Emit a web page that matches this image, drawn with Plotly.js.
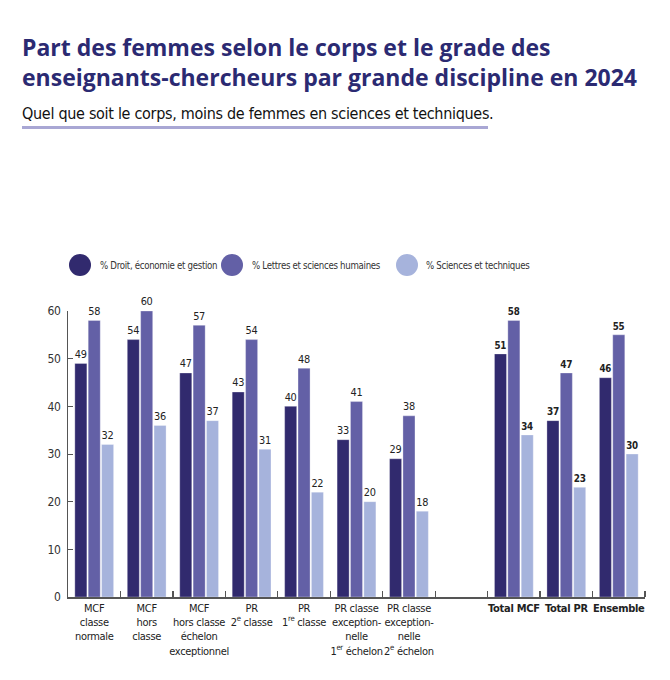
<!DOCTYPE html>
<html>
<head>
<meta charset="utf-8">
<script src="https://cdn.plot.ly/plotly-3.0.1.min.js"></script>
<style>
  body { margin: 0; background: #fff; }
  #chart { width: 670px; height: 680px; }
  /* narrow face for the chart labels (also hits plotly's measuring copies) */
  text[style*="DejaVu Sans"] { font-stretch: condensed; letter-spacing: -0.3px; }
</style>
</head>
<body>
<div id="chart"></div>
<script>
// categories (an empty slot separates the grades from the totals)
var categories = [
    "MCF<br>classe<br>normale",
    "MCF<br>hors<br>classe",
    "MCF<br>hors classe<br>échelon<br>exceptionnel",
    "PR<br>2<sup>e</sup> classe",
    "PR<br>1<sup>re</sup> classe",
    "PR classe<br>exception-<br>nelle<br>1<sup>er</sup> échelon",
    "PR classe<br>exception-<br>nelle<br>2<sup>e</sup> échelon",
    "",
    "<b>Total MCF</b>",
    "<b>Total PR</b>",
    "<b>Ensemble</b>"
];
var totalCategories = ["<b>Total MCF</b>", "<b>Total PR</b>", "<b>Ensemble</b>"];

var seriesNames = ["% Droit, économie et gestion", "% Lettres et sciences humaines", "% Sciences et techniques"];
var seriesColors = ["#312a6e", "#6360a6", "#a6b3dc"];

// null = empty slot
var droit    = [49, 54, 47, 43, 40, 33, 29, null, 51, 37, 46];
var lettres  = [58, 60, 57, 54, 48, 41, 38, null, 58, 47, 55];
var sciences = [32, 36, 37, 31, 22, 20, 18, null, 34, 23, 30];

var yTicks = [0, 10, 20, 30, 40, 50, 60];

var condensed = '"DejaVu Sans", sans-serif';

// plot area in pixels
var W = 670, H = 680;
var M = { l: 68, r: 25, t: 311, b: 83 };
var plotW = W - M.l - M.r;
var plotH = H - M.t - M.b;
function px(x) { return (x - M.l) / plotW; }
function py(y) { return (H - M.b - y) / plotH; }

var xIdx = categories.map(function (c, i) { return i; });
var slotIdx = xIdx.filter(function (i) { return categories[i] !== ""; });

function makeTrace(values, k) {
    var xs = [], ys = [], txt = [];
    slotIdx.forEach(function (i) {
        xs.push(i);
        ys.push(values[i]);
        var bold = totalCategories.indexOf(categories[i]) >= 0;
        txt.push(bold ? "<b>" + values[i] + "</b>" : String(values[i]));
    });
    return {
        type: 'bar',
        name: seriesNames[k],
        x: xs,
        y: ys,
        text: txt,
        textposition: 'outside',
        cliponaxis: false,
        textfont: { family: condensed, size: 12.5, color: '#222' },
        marker: { color: seriesColors[k], line: { color: 'rgba(255,255,255,0.6)', width: 0.5 } },
        hoverinfo: 'skip',
        showlegend: false
    };
}

var data = [makeTrace(droit, 0), makeTrace(lettres, 1), makeTrace(sciences, 2)];

// tick marks on every slot edge
var boundaries = xIdx.map(function (i) { return i + 0.5; });

// legend, drawn by hand to get round swatches
var legendCircleX = [80, 232, 407];
var legendTextX = [98, 250, 424];
var legendY = 265;

var shapes = [];
var annotations = [];
seriesNames.forEach(function (name, k) {
    shapes.push({
        type: 'circle', xref: 'paper', yref: 'paper',
        xsizemode: 'pixel', ysizemode: 'pixel',
        xanchor: px(legendCircleX[k]), yanchor: py(legendY),
        x0: -11, x1: 11, y0: -11, y1: 11,
        fillcolor: seriesColors[k], line: { width: 0 }
    });
    annotations.push({
        xref: 'paper', yref: 'paper',
        x: px(legendTextX[k]), y: py(legendY),
        xanchor: 'left', yanchor: 'middle',
        text: name, showarrow: false,
        font: { family: condensed, size: 9.6, color: '#333' }
    });
});

// subtitle + underline
annotations.push({
    xref: 'paper', yref: 'paper',
    x: px(20), y: py(113),
    xanchor: 'left', yanchor: 'middle',
    text: "Quel que soit le corps, moins de femmes en sciences et techniques.",
    showarrow: false,
    font: { family: condensed, size: 16, color: '#111' }
});
shapes.push({
    type: 'line', xref: 'paper', yref: 'paper',
    x0: px(22), x1: px(488), y0: py(127.5), y1: py(127.5),
    line: { color: '#a9a7d4', width: 3 }
});

var layout = {
    width: W,
    height: H,
    margin: M,
    paper_bgcolor: '#fff',
    plot_bgcolor: '#fff',
    title: {
        text: "<b>Part des femmes selon le corps et le grade des<br>enseignants-chercheurs par grande discipline en 2024</b>",
        x: 22 / W, xanchor: 'left',
        y: 1 - 56 / H, yanchor: 'top', yref: 'container',
        font: { family: '"Open Sans", Lato, sans-serif', size: 23, color: '#2b2a72' }
    },
    barmode: 'group',
    bargap: 0.235,
    bargroupgap: 0.1,
    showlegend: false,
    xaxis: {
        range: [-0.5, categories.length - 0.5],
        tickmode: 'array',
        tickvals: slotIdx,
        ticktext: slotIdx.map(function (i) { return categories[i]; }),
        ticks: '',
        showline: true,
        linecolor: '#555',
        linewidth: 1.5,
        showgrid: false,
        zeroline: false,
        tickangle: 0,
        tickfont: { family: condensed, size: 11, color: '#222' },
        minor: { tickmode: 'array', tickvals: boundaries, ticks: 'inside', ticklen: 6, tickcolor: '#555', tickwidth: 1.2, showgrid: false },
        fixedrange: true
    },
    yaxis: {
        range: [0, 60],
        tickmode: 'array',
        tickvals: yTicks,
        ticks: 'inside',
        ticklen: 5,
        tickcolor: '#555',
        showline: true,
        linecolor: '#555',
        linewidth: 1,
        showgrid: false,
        zeroline: false,
        ticklabelstandoff: 4,
        tickfont: { family: condensed, size: 12, color: '#333' },
        fixedrange: true
    },
    shapes: shapes,
    annotations: annotations
};

Plotly.newPlot('chart', data, layout, { displayModeBar: false, staticPlot: true });
</script>
</body>
</html>
